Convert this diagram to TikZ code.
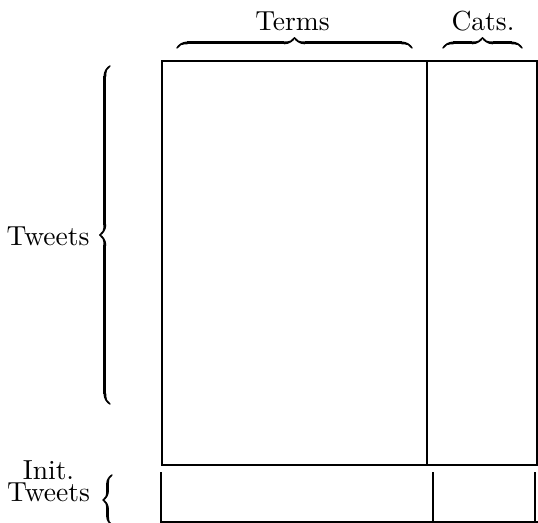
\documentclass[tikz,border=0pt]{standalone}
\usetikzlibrary{decorations.pathreplacing,calligraphy}
\tikzset{
  boxline/.style={line width=0.8pt},
  lbl/.style={inner sep=0pt, outer sep=0pt, font=\fontsize{10.8}{13}\selectfont},
  lbltwo/.style={inner sep=0pt, outer sep=0pt, align=center, font=\fontsize{10.8}{8.43}\selectfont},
  brace/.style={decorate, decoration={calligraphic brace, amplitude=#1}, line width=1.1pt},
  brace/.default=4pt
}
\begin{document}
\begin{tikzpicture}[x=0.392pt, y=-0.392pt]
\useasboundingbox (0,0) rectangle (538,523);
% main box
\coordinate (tl) at (161.7,61);
\coordinate (tr) at (537,61);
\coordinate (bl) at (161.7,465);
\coordinate (br) at (537,465);
\coordinate (dt) at (427,61);
\coordinate (db) at (427,465);
\draw[boxline] (tl) -- (tr) -- (br) -- (bl) -- cycle;
\draw[boxline] (dt) -- (db);
% bottom (initial tweets) block
\coordinate (ilt) at (161,472);
\coordinate (ilb) at (161,522);
\coordinate (irt) at (535,472);
\coordinate (irb) at (535,522);
\coordinate (idt) at (433,472);
\coordinate (idb) at (433,522);
\coordinate (iend) at (538,522);
\draw[boxline] (ilt) -- (ilb) -- (iend);
\draw[boxline] (irt) -- (irb);
\draw[boxline] (idt) -- (idb);
% brace end points
\coordinate (ta) at (177,48);  \coordinate (tb) at (412,48);
\coordinate (ca) at (443,48);  \coordinate (cb) at (522,48);
\coordinate (la) at (110,404); \coordinate (lb) at (110,66);
\coordinate (ia) at (112,525); \coordinate (ib) at (112,475);
% top braces and labels
\draw[brace] (ta) -- (tb);
\draw[brace] (ca) -- (cb);
\node[lbl, anchor=base] (terms) at (292.5,30) {Terms};
\node[lbl, anchor=base] (cats) at (483,30) {Cats.};
% left braces and labels
\draw[brace] (la) -- (lb);
\node[lbl, anchor=base east] (tweets) at (89.5,245) {Tweets};
\draw[brace=3.5pt] (ia) -- (ib);
\node[lbltwo] (init) at (48.5,481.3) {Init.\\Tweets};
\end{tikzpicture}
\end{document}
